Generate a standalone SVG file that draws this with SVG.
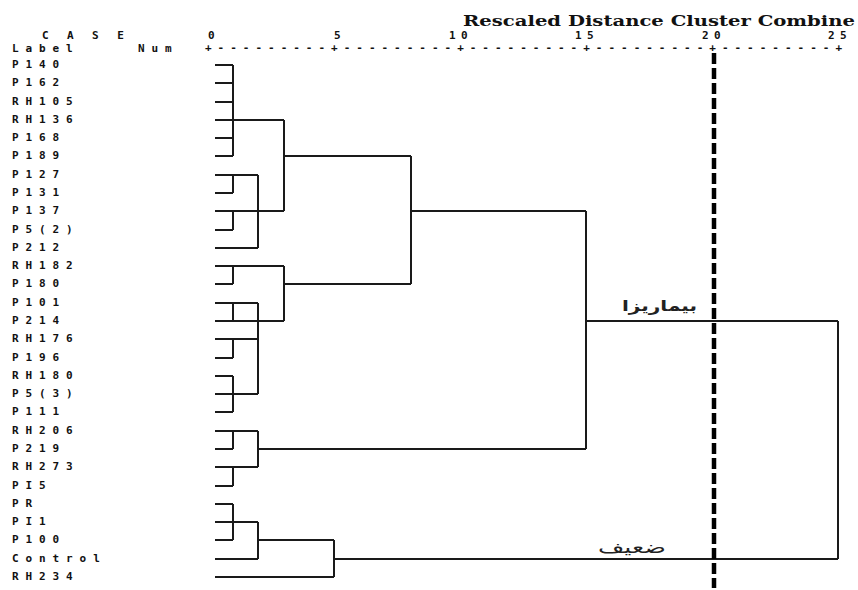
<svg xmlns="http://www.w3.org/2000/svg" width="858" height="590" viewBox="0 0 858 590">
<style>
.lbl{font-family:"DejaVu Sans Mono","Liberation Mono",monospace;font-size:11px;font-weight:bold;letter-spacing:6.9px;fill:#111}
.num{font-family:"DejaVu Sans Mono","Liberation Mono",monospace;font-size:11px;font-weight:bold;letter-spacing:5.4px;fill:#111}
.title{font-family:"DejaVu Serif","Liberation Serif",serif;font-size:15px;font-weight:bold;fill:#111}
.ar{font-family:"DejaVu Sans","Noto Sans",sans-serif;fill:#222}
.ln{stroke:#1a1a1a;stroke-width:2;fill:none}
.cut{stroke:#000;stroke-width:4.5;stroke-dasharray:11 4;fill:none}
</style>
<rect width="858" height="590" fill="#fff"/>
<g id="header">
<text class="title" x="463" y="26" textLength="392" lengthAdjust="spacingAndGlyphs">Rescaled Distance Cluster Combine</text>
<text class="lbl" x="42" y="38.5" style="letter-spacing:5.9px">C A S E</text>
<text class="lbl" x="12" y="51.5">Label</text>
<text class="lbl" x="138" y="51.5">Num</text>
<text class="num" x="208" y="39">0</text>
<text class="num" x="334" y="39">5</text>
<text class="num" x="449" y="39">10</text>
<text class="num" x="575" y="39">15</text>
<text class="num" x="702" y="39">20</text>
<text class="num" x="828" y="39">25</text>
<text class="num" x="205" y="51" textLength="637" lengthAdjust="spacing" style="letter-spacing:0">+---------+---------+---------+---------+---------+</text>
</g>
<g id="labels">
<text class="lbl" x="12" y="68">P140</text>
<text class="lbl" x="12" y="86">P162</text>
<text class="lbl" x="12" y="105">RH105</text>
<text class="lbl" x="12" y="123">RH136</text>
<text class="lbl" x="12" y="141">P168</text>
<text class="lbl" x="12" y="159">P189</text>
<text class="lbl" x="12" y="178">P127</text>
<text class="lbl" x="12" y="196">P131</text>
<text class="lbl" x="12" y="214">P137</text>
<text class="lbl" x="12" y="233">P5(2)</text>
<text class="lbl" x="12" y="251">P212</text>
<text class="lbl" x="12" y="269">RH182</text>
<text class="lbl" x="12" y="287">P180</text>
<text class="lbl" x="12" y="306">P101</text>
<text class="lbl" x="12" y="324">P214</text>
<text class="lbl" x="12" y="342">RH176</text>
<text class="lbl" x="12" y="361">P196</text>
<text class="lbl" x="12" y="379">RH180</text>
<text class="lbl" x="12" y="397">P5(3)</text>
<text class="lbl" x="12" y="415">P111</text>
<text class="lbl" x="12" y="434">RH206</text>
<text class="lbl" x="12" y="452">P219</text>
<text class="lbl" x="12" y="470">RH273</text>
<text class="lbl" x="12" y="489">PI5</text>
<text class="lbl" x="12" y="507">PR</text>
<text class="lbl" x="12" y="525">PI1</text>
<text class="lbl" x="12" y="543">P100</text>
<text class="lbl" x="12" y="562">Control</text>
<text class="lbl" x="12" y="580">RH234</text>
</g>
<g id="connectors">
<path class="ln" d="M215 65H233M215 83H233M215 102H233M215 120H284M215 138H233M215 156H233M215 175H258M215 193H233M215 211H284M215 230H233M215 248H258M215 266H284M215 284H233M215 303H258M215 321H284M215 339H258M215 358H233M215 376H233M215 394H258M215 412H233M215 431H258M215 449H233M215 467H258M215 486H233M215 504H233M215 522H258M215 540H233M215 559H258M215 577H334"/>
<path class="ln" d="M233 65V156M233 175V193M233 211V230M233 266V284M233 303V321M233 339V358M233 376V412M233 431V449M233 467V486M233 504V540"/>
<path class="ln" d="M258 175V248M258 303V394M258 431V467M258 522V559"/>
<path class="ln" d="M284 120V211M284 266V321M284 156H411M284 284H411M411 156V284M411 211H586M258 449H586M586 211V449M586 321H838M258 540H334M334 540V577M334 559H838M838 321V559"/>
</g>
<g id="cutline">
<line class="cut" x1="714" y1="53" x2="714" y2="588"/>
</g>
<g id="annotations">
<text class="ar" x="622" y="311" font-size="15" font-weight="bold" textLength="75" lengthAdjust="spacingAndGlyphs">بیماریزا</text>
<text class="ar" x="598" y="553" font-size="17" textLength="68" lengthAdjust="spacingAndGlyphs">ضعیف</text>
</g>
</svg>
